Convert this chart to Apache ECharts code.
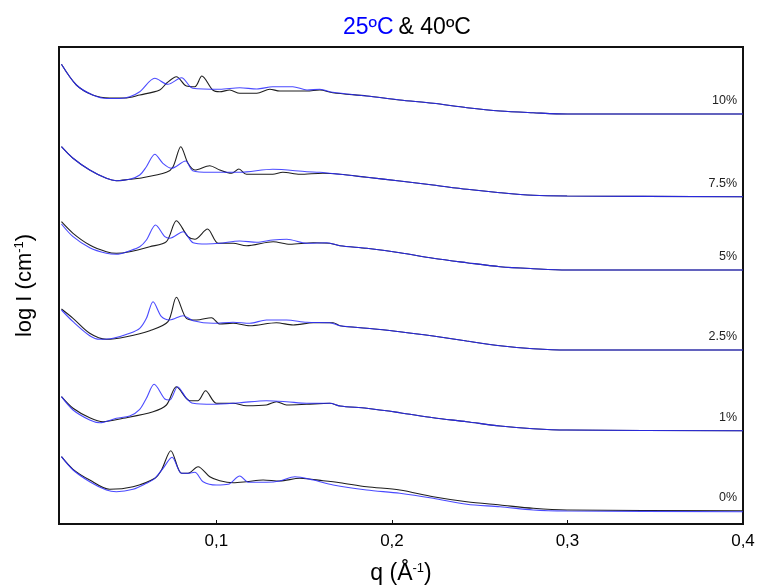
<!DOCTYPE html>
<html>
<head>
<meta charset="utf-8">
<script src="https://cdn.jsdelivr.net/npm/echarts@6/dist/echarts.min.js"></script>
<style>html,body{margin:0;padding:0;background:#fff}#c{width:758px;height:586px}</style>
</head>
<body>
<div id="c"></div>
<script>
// concentration labels (bottom to top)
const concLabels = ['0%', '1%', '2.5%', '5%', '7.5%', '10%'];
const xTicks = [0.1, 0.2, 0.3, 0.4];

// [q (Å^-1), shifted log I (arbitrary units)]
// 25 °C (blue)
const blue0 = [[0.0117,67.3],[0.0183,54],[0.0278,42.3],[0.0373,34],[0.0430,32.3],[0.0525,34.7],[0.0601,40.7],[0.0649,45.7],[0.0696,55.7],[0.0747,66.7],[0.0801,50.7],[0.0838,50.7],[0.0877,51.7],[0.0924,42.3],[0.1000,39],[0.1067,39.7],[0.1133,48],[0.1181,41.7],[0.1285,41.7],[0.1361,43],[0.1447,47.3],[0.1551,44],[0.1665,39],[0.1856,34],[0.2045,30.7],[0.2235,25.7],[0.2426,19.7],[0.2616,17.3],[0.2805,14],[0.2996,13],[0.4,12.3]];
const blue1 = [[0.0117,127.3],[0.0183,114],[0.0278,104],[0.0335,101.3],[0.0430,105.7],[0.0506,108],[0.0563,114.7],[0.0601,125.7],[0.0645,139.7],[0.0706,125],[0.0734,124],[0.0778,137.3],[0.0829,125.7],[0.0867,120.7],[0.0981,119.7],[0.1133,121.3],[0.1285,123.3],[0.1399,122.3],[0.1514,120.7],[0.1646,120.7],[0.1704,118],[0.1856,115.7],[0.2045,111.3],[0.2235,106.3],[0.2426,102.3],[0.2616,98],[0.2805,95.3],[0.2996,94],[0.4,93.3]];
const blue25 = [[0.0117,214],[0.0183,202.3],[0.0278,188.3],[0.0335,184.7],[0.0411,185.7],[0.0506,190.7],[0.0563,195.7],[0.0601,205.7],[0.0639,222.3],[0.0687,207.3],[0.0734,204],[0.0810,208.3],[0.0867,203.3],[0.0981,200.7],[0.1095,201.7],[0.1190,200.7],[0.1285,204],[0.1399,204],[0.1514,201.7],[0.1646,201.3],[0.1704,198.3],[0.1856,195.7],[0.2045,192.3],[0.2235,188],[0.2426,183],[0.2616,178.3],[0.2805,175.3],[0.2996,174],[0.4,174]];
const blue5 = [[0.0117,300],[0.0183,287.3],[0.0278,276.3],[0.0373,270.7],[0.0430,269.7],[0.0506,273.3],[0.0563,277.3],[0.0601,284],[0.0653,299],[0.0706,287.3],[0.0734,285.7],[0.0810,292.3],[0.0867,281.3],[0.0943,280],[0.1019,280.7],[0.1133,283],[0.1230,281.7],[0.1321,284],[0.1401,284.7],[0.1515,280.7],[0.1628,281.3],[0.1704,278.3],[0.1856,275.7],[0.2045,271.3],[0.2235,265.7],[0.2426,261.3],[0.2616,257.3],[0.2805,255.3],[0.2996,254],[0.4,254]];
const blue75 = [[0.0117,377.3],[0.0181,366],[0.0278,354],[0.0373,345.7],[0.0430,343.3],[0.0506,344.7],[0.0563,349],[0.0601,357.3],[0.0649,369.7],[0.0695,360.7],[0.0744,355.7],[0.0824,363],[0.0865,353.3],[0.0962,351.7],[0.1133,351.7],[0.1321,354.7],[0.1515,352.3],[0.1589,351.7],[0.1704,349.7],[0.1857,346.7],[0.2045,343],[0.2234,339],[0.2428,334.7],[0.2616,331.3],[0.2804,328.7],[0.2998,328],[0.4,327.3]];
const blue10 = [[0.0117,459.7],[0.0202,439],[0.0295,429],[0.0376,425.5],[0.0449,425.5],[0.0506,427.3],[0.0563,432.3],[0.0649,445.7],[0.0723,439.7],[0.0801,446.3],[0.0865,435.7],[0.1019,434.7],[0.1133,436.3],[0.1230,435],[0.1321,437.3],[0.1435,437.3],[0.1516,434],[0.1589,434.7],[0.1663,431.7],[0.1857,428],[0.2045,424],[0.2234,420.7],[0.2428,416.3],[0.2616,413],[0.2804,411.3],[0.2998,410],[0.4,410]];

// 40 °C (black)
const black0 = [[0.0117,67.3],[0.0183,54.7],[0.0278,44],[0.0392,34.7],[0.0525,37.3],[0.0649,45.7],[0.0687,54],[0.0740,73.3],[0.0801,50.7],[0.0838,50.7],[0.0895,57.3],[0.0962,47.3],[0.1019,43.3],[0.1095,41.3],[0.1171,42.3],[0.1266,44],[0.1361,43],[0.1475,45.7],[0.1608,43.3],[0.1704,41.3],[0.1856,37.3],[0.2045,34],[0.2235,27.3],[0.2426,22.3],[0.2616,19],[0.2805,15.7],[0.2996,14],[0.4,13.3]];
const black1 = [[0.0117,127.3],[0.0183,115.7],[0.0278,106.3],[0.0354,102.3],[0.0468,105.7],[0.0639,112.3],[0.0715,119],[0.0772,137.3],[0.0848,123.3],[0.0895,123.3],[0.0938,133.3],[0.1000,120.7],[0.1095,120.7],[0.1171,118.3],[0.1285,119],[0.1342,122.3],[0.1399,119],[0.1514,119.7],[0.1646,120.7],[0.1704,118],[0.1856,115.7],[0.2045,111.3],[0.2235,106.3],[0.2426,102.3],[0.2616,98],[0.2805,95.3],[0.2996,94],[0.4,93.3]];
const black25 = [[0.0117,215],[0.0183,205.7],[0.0278,190.7],[0.0373,184.7],[0.0487,187.3],[0.0620,193.3],[0.0724,202.3],[0.0772,226.7],[0.0829,205.7],[0.0886,204],[0.0972,206.3],[0.1019,200],[0.1095,200.7],[0.1190,198.3],[0.1342,201.3],[0.1437,199],[0.1551,201.3],[0.1665,201.3],[0.1704,198.3],[0.1856,195.7],[0.2045,192.3],[0.2235,188],[0.2426,183],[0.2616,178.3],[0.2805,175.3],[0.2996,174],[0.4,174]];
const black5 = [[0.0117,302.3],[0.0183,290.7],[0.0278,279],[0.0373,272.3],[0.0430,270.7],[0.0506,272.3],[0.0620,277.3],[0.0715,282.3],[0.0772,303.3],[0.0838,287.3],[0.0877,284.7],[0.0949,295],[0.1010,280.7],[0.1095,280.7],[0.1171,278.3],[0.1323,282.3],[0.1418,279.7],[0.1551,281.3],[0.1646,280.7],[0.1704,278.3],[0.1856,275.7],[0.2045,271.3],[0.2235,265.7],[0.2426,261.3],[0.2616,257.3],[0.2805,255.3],[0.2996,254],[0.4,254]];
const black75 = [[0.0117,377.3],[0.0181,366],[0.0278,354],[0.0373,345.7],[0.0430,343.3],[0.0506,344.7],[0.0563,345.7],[0.0715,351.7],[0.0753,357.3],[0.0797,377.3],[0.0838,360.7],[0.0877,354],[0.0962,358.3],[0.1019,354],[0.1086,350.7],[0.1128,355],[0.1171,349.7],[0.1321,349.7],[0.1378,351.7],[0.1475,349.7],[0.1606,350.7],[0.1704,349.7],[0.1857,346.7],[0.2045,343],[0.2234,339],[0.2428,334.7],[0.2616,331.3],[0.2804,328.7],[0.2998,328],[0.4,327.3]];
const black10 = [[0.0117,459.7],[0.0202,439],[0.0295,429],[0.0392,426],[0.0477,426],[0.0563,429],[0.0677,434],[0.0717,441],[0.0772,447.3],[0.0829,438],[0.0877,437.3],[0.0917,448],[0.0979,434],[0.1019,432.3],[0.1076,434],[0.1133,430.7],[0.1230,430.7],[0.1304,434.7],[0.1361,433],[0.1515,433],[0.1589,434],[0.1663,431.3],[0.1857,428],[0.2045,424],[0.2234,420.7],[0.2428,416.3],[0.2616,413],[0.2804,411.3],[0.2998,410],[0.4,410]];

const blueSets = [blue0, blue1, blue25, blue5, blue75, blue10];
const blackSets = [black0, black1, black25, black5, black75, black10];

const BLUE = '#2a2aff', BLACK = '#1e1e1e';
const FONT = '"Liberation Sans", Arial, sans-serif';

const series = [];
blackSets.forEach((d, i) => {
  series.push({
    name: '40ºC ' + concLabels[i], type: 'line', data: d, showSymbol: false, smooth: 0.3,
    lineStyle: { color: BLACK, width: 1.1 }, itemStyle: { color: BLACK }, z: 2,
    endLabel: { show: true, formatter: concLabels[i], align: 'right', offset: [-14, -13],
      color: '#222', fontSize: 12.5, fontFamily: FONT }
  });
});
blueSets.forEach((d, i) => {
  series.push({
    name: '25ºC ' + concLabels[i], type: 'line', data: d, showSymbol: false, smooth: 0.3,
    lineStyle: { color: BLUE, width: 1.1, opacity: 0.85 }, itemStyle: { color: BLUE }, z: 3
  });
});

const chart = echarts.init(document.getElementById('c'));
chart.setOption({
  animation: false,
  backgroundColor: '#fff',
  title: {
    text: '{b|25ºC} {k|& 40ºC}', left: 338, top: 11,
    textStyle: { fontWeight: 'normal', rich: {
      b: { color: '#0000ff', fontSize: 23, fontWeight: 'normal', fontFamily: FONT },
      k: { color: '#000', fontSize: 23, fontWeight: 'normal', fontFamily: FONT }
    } }
  },
  grid: { left: 59, right: 15, top: 47, bottom: 62, outerBoundsMode: 'none', containLabel: false,
    show: true, borderColor: '#111', borderWidth: 2, backgroundColor: 'transparent' },
  xAxis: {
    type: 'value', min: 0.0103, max: 0.4,
    name: '{n|q (Å}{s|-1}{n|)}', nameLocation: 'middle', nameGap: 38,
    nameTextStyle: { rich: {
      n: { fontSize: 23, color: '#000', fontFamily: FONT },
      s: { fontSize: 13, color: '#000', fontFamily: FONT, padding: [0, 0, 11, 0] }
    } },
    axisLine: { show: true, lineStyle: { color: '#111', width: 2 } },
    axisTick: { show: true, inside: true, length: 4, customValues: xTicks, lineStyle: { color: '#111' } },
    axisLabel: { customValues: xTicks, fontSize: 17, color: '#000', fontFamily: FONT, margin: 9,
      formatter: v => String(Math.round(v * 10) / 10).replace('.', ',') },
    splitLine: { show: false }
  },
  yAxis: {
    type: 'value', min: 0, max: 477,
    name: '{n|log I (cm}{s|-1}{n|)}', nameLocation: 'middle', nameGap: 22,
    nameTextStyle: { rich: {
      n: { fontSize: 22, color: '#000', fontFamily: FONT },
      s: { fontSize: 13, color: '#000', fontFamily: FONT, padding: [0, 0, 11, 0] }
    } },
    axisLine: { show: true, lineStyle: { color: '#111', width: 2 } },
    axisTick: { show: false }, axisLabel: { show: false }, splitLine: { show: false }
  },
  series: series
});
</script>
</body>
</html>
